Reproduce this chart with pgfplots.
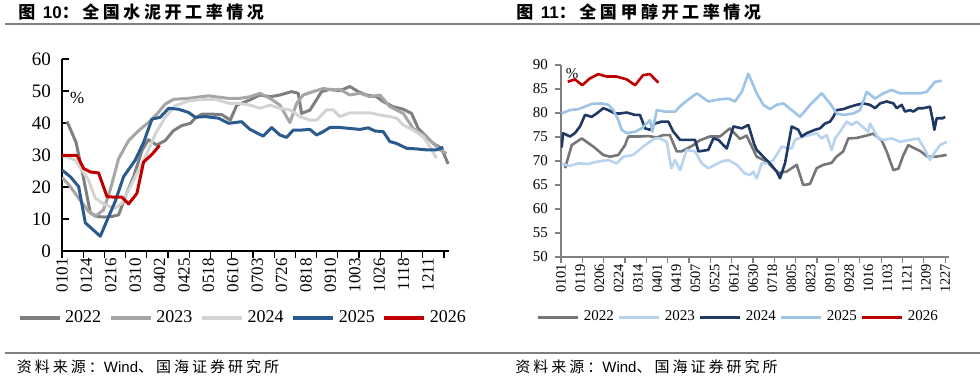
\documentclass[border=0pt]{standalone}
\usepackage{fontspec}
\setmainfont{Liberation Serif}
\newfontfamily\cjk{Noto Sans CJK SC}
\newfontfamily\arial{Liberation Sans}
\usepackage{pgfplots}
\pgfplotsset{compat=1.18}
\definecolor{la}{HTML}{7F7F7F}
\definecolor{lb}{HTML}{A6A6A6}
\definecolor{lc}{HTML}{D3D3D3}
\definecolor{ld}{HTML}{2B5A8E}
\definecolor{le}{HTML}{C00000}
\definecolor{ra}{HTML}{767676}
\definecolor{rb}{HTML}{B8D3EE}
\definecolor{rc}{HTML}{1F3864}
\definecolor{rd}{HTML}{9DC3E6}
\definecolor{re}{HTML}{C00000}
\definecolor{rule}{HTML}{808080}
\begin{document}
\begin{tikzpicture}
\useasboundingbox (0,0) rectangle (490pt,-193pt);
% titles and rules
\node[anchor=west, inner sep=0pt] at (9pt,-6pt) {\cjk\bfseries\fontsize{8.5}{8.5}\selectfont\addfontfeature{LetterSpace=21}图 {\arial\bfseries 10}：全国水泥开工率情况};
\node[anchor=west, inner sep=0pt] at (258pt,-6pt) {\cjk\bfseries\fontsize{8.5}{8.5}\selectfont\addfontfeature{LetterSpace=21}图 {\arial\bfseries 11}：全国甲醇开工率情况};
\draw[rule, line width=1pt] (2.5pt,-12.2pt) -- (490pt,-12.2pt);
\draw[rule, line width=1pt] (2.5pt,-176.5pt) -- (490pt,-176.5pt);
\node[anchor=west, inner sep=0pt] at (8.3pt,-183.3pt) {\cjk\fontsize{7.5}{7.5}\selectfont\addfontfeature{LetterSpace=20}资料来源：{\arial Wind}、国海证券研究所};
\node[anchor=west, inner sep=0pt] at (257.5pt,-183.3pt) {\cjk\fontsize{7.5}{7.5}\selectfont\addfontfeature{LetterSpace=20}资料来源：{\arial Wind}、国海证券研究所};

% ---------- left chart ----------
\begin{axis}[
  at={(31pt,-125.5pt)}, anchor=south west,
  scale only axis, width=193.6pt, height=96pt,
  xmin=0, xmax=365, ymin=0, ymax=60,
  axis x line*=bottom, axis y line*=left,
  axis line style={black, line width=0.6pt},
  every tick/.style={black, line width=0.6pt},
  major tick length=3.5pt,
  ytick={0,10,...,60}, ytick align=inside,
  xtick={0,20,...,360}, xticklabels={}, xtick align=outside,
  extra x ticks={0,23,...,345},
  extra x tick labels={0101,0124,0216,0310,0402,0425,0518,0610,0703,0726,0818,0910,1003,1026,1118,1211},
  extra x tick style={major tick length=0pt, tick label style={rotate=90, anchor=east, yshift=0pt}},
  xticklabel style={font=\fontsize{8.5}{8.5}\selectfont, xshift=0pt},
  yticklabel style={font=\fontsize{9.5}{9.5}\selectfont, xshift=-2pt},
  /pgf/number format/assume math mode=true,
  legend columns=5,
  legend style={at={(0.47,-0.349)}, anchor=center, draw=none, fill=none,
    font=\fontsize{9}{9}\selectfont, inner sep=0pt,
    /tikz/every even column/.append style={column sep=2pt}},
  legend image code/.code={\draw[#1, line width=1.6pt] (0pt,0pt) -- (20pt,0pt);},
  every axis plot/.append style={line width=1.5pt, line join=round},
]
\addplot[la] coordinates {(4.7,40.5)(13.2,34.0)(18.8,25.3)(26.7,11.9)(33,10.8)(40,10.6)(47,10.8)(53.4,11.3)(59.7,17)(67.5,23.2)(75.4,31.4)(81.4,34.8)(89.2,33.1)(97.3,34.5)(105,37.6)(113,39.2)(121,39.9)(125.6,41.5)(132,42.8)(139.7,42.8)(150.7,42.6)(158.6,40.9)(164.8,45.6)(177,47.2)(186.6,48.75)(196,48.2)(205.4,48.75)(216.4,49.8)(222.7,49.3)(225.8,43)(233.7,44)(244.7,49.8)(252.5,50.5)(262,50.1)(271.4,51.4)(279.3,49.8)(287,48.75)(296.5,48.2)(302.8,46.7)(312.2,45.1)(321.7,44.3)(329.5,43)(335.8,38.3)(343.7,35.7)(350,33.6)(357.8,32.1)(364,27.2)};
\addlegendentry{2022}
\addplot[lb] coordinates {(0,23)(7,20.5)(15.7,16.5)(25,12.4)(31.4,10.8)(39.2,12.9)(45.5,19.1)(53.4,28.9)(62.8,34.5)(72.2,37.6)(81.6,40.2)(89.5,42.8)(97.3,45.9)(105.2,47.4)(119.3,47.7)(138,48.5)(157,47.7)(167.7,47.7)(177.2,48.2)(186.6,49.3)(196,47.7)(205.4,45.6)(214.9,40.1)(221.1,46.1)(227.4,48.75)(236.8,49.8)(246.3,50.8)(255.7,50.3)(262,50.5)(271.4,48.75)(280.8,49.3)(290.3,48.2)(299.7,48.75)(309.1,45.1)(321.7,43)(331,38.3)(340.5,36.3)(350,33.6)(356.2,31.6)(362.5,30.5)};
\addlegendentry{2023}
\addplot[lc] coordinates {(0,29.9)(12.6,28.4)(25,22.2)(31.4,16.5)(40.8,14.4)(50.2,13.4)(56.5,14.9)(61.2,18)(69,23.2)(78.5,29.4)(88,36.6)(97.3,41.8)(106.8,45.4)(119.3,46.9)(131.9,47.4)(144.4,47.4)(158.3,46.1)(167.7,46.1)(177.2,45.6)(186.6,44.6)(196,45.6)(205.4,44.6)(214.9,44.1)(224.3,42)(233.7,40.9)(240,40.9)(249.4,44.1)(255.7,44.1)(262,42)(271.4,43.2)(290.3,43.2)(299.7,42.5)(309.1,42)(315.4,41.5)(321.7,39.4)(331,37.8)(340.5,35.7)(346.8,32.6)(353,29)};
\addlegendentry{2024}
\addplot[ld] coordinates {(0,25.3)(7.9,23.2)(15.7,20.1)(22,8.8)(36.1,4.6)(44,10.8)(50.2,15.5)(58,23.2)(69,28.4)(77,34)(84.8,41.2)(92.6,41.8)(100.5,44.6)(109.9,44.3)(119.3,43.3)(125.6,41.8)(135,42)(147.6,41.5)(157,39.9)(169.3,40.4)(177.2,38)(189.7,35.9)(197.6,38.6)(205.4,36.25)(211.7,35.5)(218,37.8)(225.8,37.8)(233.7,38)(240,36.25)(246.3,37.3)(252.5,38.6)(262,38.6)(271.4,38.3)(280.8,38)(288.7,38.5)(295,37.5)(302.8,37.3)(309.1,34.2)(315.4,33.6)(324.8,32.1)(334.2,31.9)(343.7,31.6)(353,31.6)(359.4,32.4)};
\addlegendentry{2025}
\addplot[le] coordinates {(0,29.9)(14.1,29.9)(20.4,25.8)(26.7,24.7)(34.5,24.4)(42.4,17)(50.2,16.8)(56.5,16.8)(62.8,14.7)(70.6,18)(76.9,27.8)(84.8,30.2)(92,33)};
\addlegendentry{2026}
\end{axis}
\node[inner sep=0pt, font=\fontsize{8.5}{8.5}\selectfont] at (38.6pt,-49pt) {\%};

% ---------- right chart ----------
\begin{axis}[
  at={(280.5pt,-128.5pt)}, anchor=south west,
  scale only axis, width=194.2pt, height=96pt,
  xmin=0, xmax=364, ymin=50, ymax=90,
  axis x line*=bottom, axis y line*=left,
  axis line style={rule, line width=0.6pt},
  every tick/.style={rule, line width=0.6pt},
  major tick length=3pt,
  ytick={50,55,...,90}, ytick align=outside,
  xtick={0,20,...,360}, xticklabels={}, xtick align=outside,
  extra x ticks={0,18,...,360},
  extra x tick labels={0101,0119,0206,0224,0314,0401,0419,0507,0525,0612,0630,0718,0805,0823,0910,0928,1016,1103,1121,1209,1227},
  extra x tick style={major tick length=0pt, tick label style={rotate=90, anchor=east}},
  xticklabel style={font=\fontsize{7.2}{7.2}\selectfont},
  yticklabel style={font=\fontsize{7.5}{7.5}\selectfont},
  /pgf/number format/assume math mode=true,
  legend columns=5,
  legend style={at={(0.459,-0.3125)}, anchor=center, draw=none, fill=none,
    font=\fontsize{7.5}{7.5}\selectfont, inner sep=0pt,
    /tikz/every even column/.append style={column sep=0pt}},
  legend image code/.code={\draw[#1, line width=1.5pt] (0pt,0pt) -- (20pt,0pt);},
  every axis plot/.append style={line width=1.3pt, line join=round},
]
\addplot[ra] coordinates {(3.8,68.5)(10,73.3)(19.4,74.7)(30.3,73)(39.7,71.25)(45.9,70.9)(53.7,71.25)(60,73.3)(63.1,75.1)(74,75.1)(81.8,75.2)(89.6,74.9)(95.8,75.4)(102,75.4)(108.4,72)(113,72)(124,73.3)(130,74.3)(139.5,75.1)(149,75.1)(158.3,76.8)(167.7,74.6)(173.9,75.3)(183.4,70.9)(192.8,69.9)(203.7,67.5)(211.5,67.8)(220.9,69.2)(227,65)(233.3,65.2)(239.6,68.5)(245.8,69.2)(253.5,69.6)(258.2,70.9)(264.5,72)(269.2,74.7)(277,74.8)(286.4,75.3)(292.6,75.7)(300.5,74.3)(305.2,72)(311.5,68.1)(316.2,68.4)(320.9,71.25)(325.5,73.3)(337.1,72)(343.4,70.9)(351.2,70.9)(361.4,71.25)};
\addlegendentry{2022}
\addplot[rb] coordinates {(0.6,69.4)(8.4,69)(16.3,69.5)(25.6,69.4)(35,69.9)(44.4,70.2)(52.2,69.5)(58.4,70.9)(67.5,71.25)(77,73)(83.4,74)(88,74.7)(92.8,74.7)(99.1,74)(102,70.2)(103.5,68.5)(106.9,70.2)(111.6,68.1)(117.8,72.3)(125.6,72)(131.9,69.5)(138,68.5)(150.6,69.9)(156.9,70.2)(164.7,69.2)(172.4,67.4)(177.1,67.1)(180.2,67.8)(183.4,66.4)(188.1,69.5)(192.7,69.5)(199,70.2)(206.8,73)(216.2,72.6)(219.3,74.4)(227.1,75.1)(233.4,75.4)(239.6,75.8)(244.3,74.7)(249,75.4)(253.7,72.3)(256.8,74.7)(261.5,76.1)(267.7,78.2)(272.4,77.5)(277.1,78.2)(288,76.1)(289.6,77.8)(297.4,74.7)(302.1,74.4)(310,74.7)(317.7,74)(327.1,74.4)(334.9,74.7)(341.2,72.3)(345.8,70.2)(350.5,71.9)(355.2,73.3)(361.5,74)};
\addlegendentry{2023}
\addplot[rc] coordinates {(0.6,72.8)(2,75.8)(8.4,75.1)(13,75.8)(17.8,77.2)(22.5,79.6)(28.8,79.2)(33.4,79.9)(39.7,81)(44.4,80.6)(50.6,79.9)(55.3,79.9)(61.6,80.1)(69.4,79.6)(74,79.6)(78.8,76.8)(83.4,76.5)(88,77.8)(94.4,78.2)(100.6,78.2)(105.3,76.1)(111.6,74.4)(119.4,74.4)(125.6,74.4)(128.8,72)(138,72.3)(142.8,74.7)(147.5,74.4)(155.3,72.6)(161.6,77.2)(169.4,76.8)(175.6,77.5)(181,73.5)(183.4,72.3)(189.6,70.9)(195.9,69.5)(202.1,67.8)(205.2,66.4)(209.9,69.5)(216.2,77.2)(222.4,76.5)(225.5,75.1)(230.2,75.8)(238,76.5)(242.7,76.8)(247.4,77.8)(252.1,78.2)(255.2,79.2)(258.4,80.6)(264.6,80.8)(270.8,81.3)(277.1,81.7)(283.3,82)(289.6,81.7)(294.3,81)(299,82)(305.2,82.4)(311.5,82)(314.6,81)(319.3,81.7)(322.4,80.3)(327.1,80.6)(330.2,80.3)(334.9,81)(339.6,81)(345.8,81.3)(348.4,78.5)(349.9,76.5)(352.1,78.9)(357.7,78.9)(360,79.2)};
\addlegendentry{2024}
\addplot[rd] coordinates {(0.6,79.9)(8.4,80.6)(16.3,80.8)(28.8,81.9)(38,82)(44.4,81.7)(49,80.6)(53.8,78.5)(56.9,76.5)(61.6,75.8)(69.4,76.1)(75.6,76.8)(83.4,78.5)(85.6,76.1)(89.7,80.6)(97.5,80.3)(106.9,80.3)(113,81.7)(119.4,82.8)(127.2,84.1)(138,82.4)(147.5,82.8)(156.9,83)(163,82.4)(169.4,84.4)(175.6,88.2)(183.4,84.1)(189.6,81.7)(195.9,80.8)(202.1,81.7)(208.4,82)(216.2,80.6)(224,79.2)(233.4,81.7)(244.3,84.1)(252.1,82)(258.4,79.9)(264.6,79.6)(274,79.9)(280.2,80.6)(286.5,84.4)(294.3,83)(302.1,84.1)(309.9,84.8)(317.7,84.1)(327.1,84.1)(336.5,84.1)(342.7,84.4)(350.5,86.5)(356.8,86.7)};
\addlegendentry{2025}
\addplot[re] coordinates {(6.3,86.5)(13,87)(20,85.8)(27,87.2)(35,88.1)(42.8,87.6)(52,87.6)(61.6,87)(69.4,85.8)(77,87.9)(83.4,88.1)(91.3,86.3)};
\addlegendentry{2026}
\end{axis}
\node[inner sep=0pt, font=\fontsize{7.5}{7.5}\selectfont] at (286pt,-36.6pt) {\%};
\end{tikzpicture}
\end{document}
